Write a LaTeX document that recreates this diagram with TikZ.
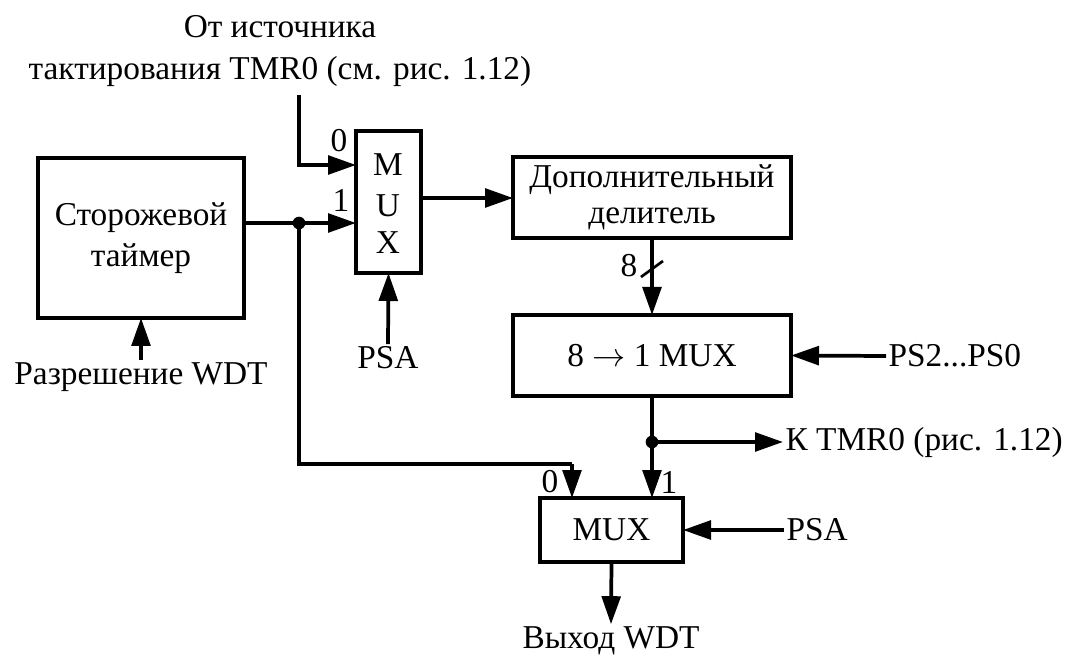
\documentclass[tikz,border=0pt]{standalone}
\usepackage{fontspec}
\setmainfont{Liberation Serif}
\usetikzlibrary{arrows.meta}
\begin{document}
\begin{tikzpicture}[x=0.75pt,y=-0.75pt,
  font=\fontsize{25}{31}\selectfont,
  blk/.style={draw,line width=2.6pt,inner sep=0pt,outer sep=0pt,align=center},
  lbl/.style={inner sep=2pt,outer sep=0pt,align=center},
  wire/.style={line width=2.8pt},
  arr/.style={wire,-{Triangle[length=21pt,width=14pt]}},
  dotc/.style={circle,fill,inner sep=0pt,minimum size=9.5pt}]
\useasboundingbox (0,0) rectangle (1068,659);
% blocks
\node[blk,minimum width=154.5pt,minimum height=120pt] (wdt) at (141,238) {Сторожевой\\таймер};
\node[blk,minimum width=48.75pt,minimum height=106.5pt] (mux1) at (388.5,202) {};
\node[lbl] (m1M) at (388,165) {M};
\node[lbl] (m1U) at (388,206) {U};
\node[lbl] (m1X) at (388,243) {X};
\node[blk,minimum width=208.5pt,minimum height=60.75pt] (div) at (652,197.5) {Дополнительный\\[-4pt]делитель};
\node[blk,minimum width=208.5pt,minimum height=60.75pt] (mux8) at (652,355.5) {8 $\rightarrow$ 1 MUX};
\node[blk,minimum width=107.25pt,minimum height=48pt] (mux2) at (611.5,530) {MUX};
% labels
\node[lbl] (src) at (280,51) {От источника\\тактирования TMR0 (см. рис. 1.12)};
\node[lbl] (en) at (141,377) {Разрешение WDT};
\node[lbl] (psa1) at (388,358) {PSA};
\node[lbl,anchor=west] (ps) at (886,356) {PS2...PS0};
\node[lbl,anchor=west] (ktmr) at (783,442) {К TMR0 (рис. 1.12)};
\node[lbl,anchor=west] (psa2) at (784,530) {PSA};
\node[lbl] (out) at (611,641) {Выход WDT};
\node[lbl] (l0a) at (339,141) {0};
\node[lbl] (l1a) at (341,200) {1};
\node[lbl] (l0b) at (550,482) {0};
\node[lbl] (l1b) at (669,482) {1};
\node[lbl] (l8) at (629,266) {8};
% coordinates
\coordinate (srcEnd) at (299,95);
\coordinate (in0) at (299,165);
\coordinate (dot1) at (299,223);
\coordinate (dot2) at (652,442);
\coordinate (c0) at (572,464);
\coordinate (m1o) at (421,198);
% connectors
\draw[arr] (en.north) -- (wdt.south);
\draw[wire] (wdt.east |- dot1) -- (dot1);
\draw[arr] (dot1) -- (mux1.west |- dot1);
\draw[arr] (srcEnd) -- (in0) -- (mux1.west |- in0);
\draw[arr] (psa1.north) -- (mux1.south);
\draw[arr] (m1o) -- (div.west |- m1o);
\draw[arr] (div.south) -- (mux8.north);
\draw[wire,line width=2pt] (641,277) -- (663,261);
\draw[arr] (ps.west) -- (mux8.east);
\draw[wire] (mux8.south) -- (dot2);
\draw[arr] (dot2) -- (ktmr.west);
\draw[arr] (dot2) -- (dot2 |- mux2.north);
\draw[wire] (dot1) |- (c0);
\draw[arr] (c0) -- (c0 |- mux2.north);
\draw[arr] (psa2.west) -- (mux2.east);
\draw[arr] (mux2.south) -- (out.north);
\node[dotc] (d1) at (dot1) {};
\node[dotc] (d2) at (dot2) {};
\end{tikzpicture}
\end{document}
